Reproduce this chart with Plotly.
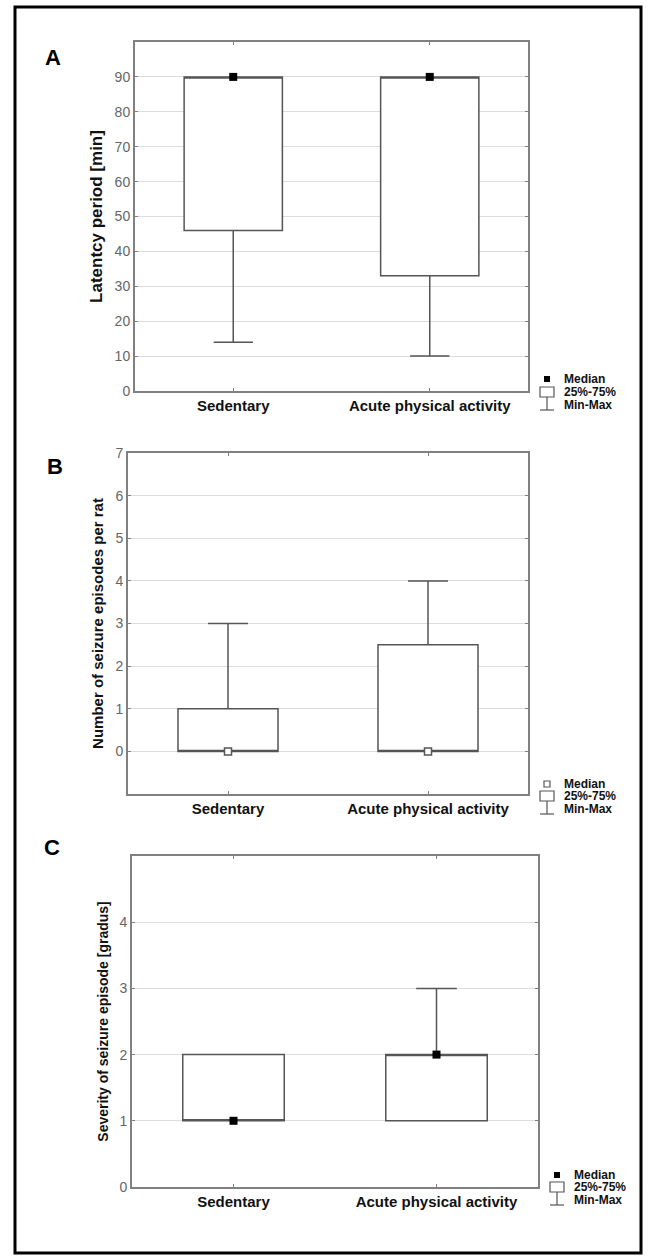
import plotly.graph_objects as go

# ---------------- data ----------------
groups = ["Sedentary", "Acute physical activity"]

# Panel A: latency period [min]
a_min = [14, 10]
a_q1 = [46, 33]
a_median = [90, 90]
a_q3 = [90, 90]
a_max = [90, 90]

# Panel B: number of seizure episodes per rat
b_min = [0, 0]
b_q1 = [0, 0]
b_median = [0, 0]
b_q3 = [1, 2.5]
b_max = [3, 4]

# Panel C: severity of seizure episode [gradus]
c_min = [1, 1]
c_q1 = [1, 1]
c_median = [1, 2]
c_q3 = [2, 2]
c_max = [2, 3]

a_ticks = [0, 10, 20, 30, 40, 50, 60, 70, 80, 90]
b_ticks = [0, 1, 2, 3, 4, 5, 6, 7]
c_ticks = [0, 1, 2, 3, 4]

legend_labels = ["Median", "25%-75%", "Min-Max"]

# ---------------- layout helpers ----------------
W, H = 655, 1258
FONT = "Arial, Liberation Sans, sans-serif"
BOXC = "#555555"
FRAME = "#808080"
GRID = "#dcdcdc"


def px(x):
    return x / W


def py(y):
    return 1 - y / H


panels = [
    dict(key="", letter="A", title="Latentcy period [min]", tfs=17,
         xd=(135, 528), yd=(42, 391), rng=[0, 100], ticks=a_ticks,
         data=(a_min, a_q1, a_median, a_q3, a_max), hollow=False,
         letter_pos=(53, 58), leg_rows=(379, 392, 405)),
    dict(key="2", letter="B", title="Number of seizure episodes per rat", tfs=15,
         xd=(128, 528), yd=(453, 794), rng=[-1, 7], ticks=b_ticks,
         data=(b_min, b_q1, b_median, b_q3, b_max), hollow=True,
         letter_pos=(55, 466), leg_rows=(784, 796, 809)),
    dict(key="3", letter="C", title="Severity of seizure episode [gradus]", tfs=14,
         xd=(132, 538), yd=(856, 1187), rng=[0, 5], ticks=c_ticks,
         data=(c_min, c_q1, c_median, c_q3, c_max), hollow=False,
         letter_pos=(52, 847), leg_rows=(1175, 1187, 1200)),
]

fig = go.Figure()
shapes = []
annotations = []
layout = dict(
    width=W, height=H, margin=dict(l=0, r=0, t=0, b=0),
    paper_bgcolor="white", plot_bgcolor="white", showlegend=False,
    font=dict(family=FONT, color="black"),
)

for p in panels:
    k = p["key"]
    xa, ya = "x" + k, "y" + k
    mn, q1, med, q3, mx = p["data"]
    fig.add_trace(go.Box(
        x=groups, q1=q1, median=med, q3=q3, lowerfence=mn, upperfence=mx,
        width=0.5, whiskerwidth=0.4, boxpoints=False,
        line=dict(color=BOXC, width=1.5), fillcolor="white",
        xaxis=xa, yaxis=ya, hoverinfo="skip",
    ))
    if p["hollow"]:
        mk = dict(symbol="square", size=7, color="white", line=dict(color=BOXC, width=1.5))
    else:
        mk = dict(symbol="square", size=8, color="black", line=dict(width=0))
    fig.add_trace(go.Scatter(x=groups, y=med, mode="markers", marker=mk,
                             xaxis=xa, yaxis=ya, hoverinfo="skip"))

    layout["xaxis" + k] = dict(
        domain=[px(p["xd"][0]), px(p["xd"][1])], anchor=ya, type="category",
        range=[-0.5, 1.5], showline=True, mirror="ticks", linecolor=FRAME, linewidth=2,
        ticks="inside", ticklen=3, tickcolor=FRAME, showgrid=False, zeroline=False,
        tickfont=dict(family=FONT, size=15, color="#111111", weight="bold"),
        automargin=False, fixedrange=True,
    )
    layout["yaxis" + k] = dict(
        domain=[py(p["yd"][1]), py(p["yd"][0])], anchor=xa, range=p["rng"],
        tickvals=p["ticks"], showline=True, mirror="ticks", linecolor=FRAME, linewidth=2,
        ticks="inside", ticklen=3, tickcolor=FRAME, showgrid=True, gridcolor=GRID,
        gridwidth=1, zeroline=False,
        tickfont=dict(family=FONT, size=14, color="#666666"),
        title=dict(text=p["title"], standoff=8,
                   font=dict(family=FONT, size=p["tfs"], color="#111111", weight="bold")),
        automargin=False, fixedrange=True,
    )

    # panel letter
    annotations.append(dict(
        x=px(p["letter_pos"][0]), y=py(p["letter_pos"][1]), xref="paper", yref="paper",
        text=p["letter"], showarrow=False, xanchor="center", yanchor="middle",
        font=dict(family=FONT, size=22, color="black", weight="bold"),
    ))

    # legend (icons + labels)
    r = p["xd"][1]
    r1, r2, r3 = p["leg_rows"]
    icx = r + 19
    if p["hollow"]:
        shapes.append(dict(type="rect", xref="paper", yref="paper",
                           x0=px(icx - 3), x1=px(icx + 3), y0=py(r1 + 3), y1=py(r1 - 3),
                           line=dict(color=BOXC, width=1.2), fillcolor="white"))
    else:
        shapes.append(dict(type="rect", xref="paper", yref="paper",
                           x0=px(icx - 3), x1=px(icx + 3), y0=py(r1 + 3), y1=py(r1 - 3),
                           line=dict(width=0), fillcolor="black"))
    shapes.append(dict(type="rect", xref="paper", yref="paper",
                       x0=px(r + 12), x1=px(r + 26), y0=py(r2 + 5), y1=py(r2 - 5),
                       line=dict(color=BOXC, width=1.2), fillcolor="white"))
    shapes.append(dict(type="line", xref="paper", yref="paper",
                       x0=px(icx), x1=px(icx), y0=py(r2 + 5), y1=py(r3 + 5),
                       line=dict(color=BOXC, width=1.2)))
    shapes.append(dict(type="line", xref="paper", yref="paper",
                       x0=px(r + 12), x1=px(r + 26), y0=py(r3 + 5), y1=py(r3 + 5),
                       line=dict(color=BOXC, width=1.2)))
    for row, lab in zip((r1, r2, r3), legend_labels):
        annotations.append(dict(
            x=px(r + 34), y=py(row), xref="paper", yref="paper", text=lab,
            showarrow=False, xanchor="left", yanchor="middle",
            font=dict(family=FONT, size=12, color="#111111", weight="bold"),
        ))

# outer frame
shapes.append(dict(type="rect", xref="paper", yref="paper",
                   x0=px(15), x1=px(641), y0=py(1253), y1=py(7),
                   line=dict(color="black", width=3), fillcolor="rgba(0,0,0,0)"))

layout["shapes"] = shapes
layout["annotations"] = annotations
fig.update_layout(**layout)

fig.write_html(
    "out.html",
    config={"displayModeBar": False, "staticPlot": True},
    post_script="document.body.style.margin='0';document.body.style.padding='0';"
                "document.documentElement.style.overflow='hidden';",
)
